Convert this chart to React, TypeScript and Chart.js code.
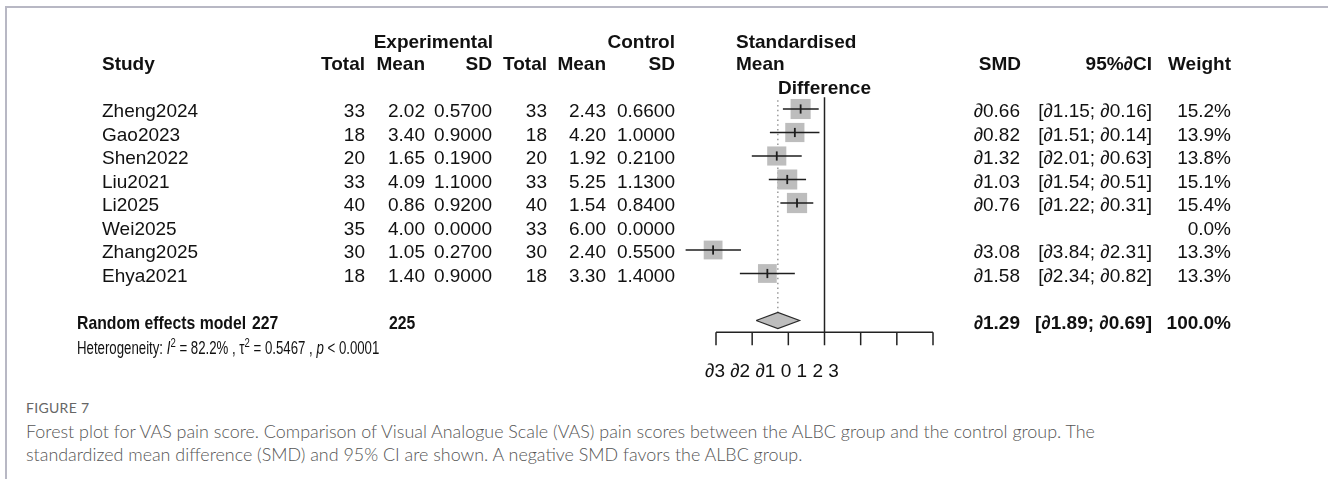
import React, { useEffect, useRef } from "react";
import { Chart, registerables } from "chart.js";

Chart.register(...registerables);

// ---------- data ----------
const studies = ["Zheng2024", "Gao2023", "Shen2022", "Liu2021", "Li2025", "Wei2025", "Zhang2025", "Ehya2021"];
const expTotal = [33, 18, 20, 33, 40, 35, 30, 18];
const expMean = [2.02, 3.4, 1.65, 4.09, 0.86, 4.0, 1.05, 1.4];
const expSD = [0.57, 0.9, 0.19, 1.1, 0.92, 0.0, 0.27, 0.9];
const ctrlTotal = [33, 18, 20, 33, 40, 33, 30, 18];
const ctrlMean = [2.43, 4.2, 1.92, 5.25, 1.54, 6.0, 2.4, 3.3];
const ctrlSD = [0.66, 1.0, 0.21, 1.13, 0.84, 0.0, 0.55, 1.4];
const smd: (number | null)[] = [-0.66, -0.82, -1.32, -1.03, -0.76, null, -3.08, -1.58];
const ciLow: (number | null)[] = [-1.15, -1.51, -2.01, -1.54, -1.22, null, -3.84, -2.34];
const ciHigh: (number | null)[] = [-0.16, -0.14, -0.63, -0.51, -0.31, null, -2.31, -0.82];
const weights = [15.2, 13.9, 13.8, 15.1, 15.4, 0.0, 13.3, 13.3];

const pooledLabel = "Random effects model";
const pooledExpTotal = 227;
const pooledCtrlTotal = 225;
const pooledSMD = -1.29;
const pooledLow = -1.89;
const pooledHigh = -0.69;
const pooledWeight = 100.0;

const hetI2 = "82.2%";
const hetTau2 = "0.5467";
const hetP = "0.0001";

const tickValues = [-3, -2, -1, 0, 1, 2, 3];
const tickLabels = ["∂3", "∂2", "∂1", "0", "1", "2", "3"];

// ---------- layout / style ----------
const W = 1328;
const H = 390;
const SANS = '"Liberation Sans", Arial, Helvetica, sans-serif';
const F_REG = `19px ${SANS}`;
const F_BOLD = `bold 19px ${SANS}`;
const INK = "#111";
const POOLED_ROW = 9;

const fmtSigned = (v: number) => (v < 0 ? "∂" + Math.abs(v).toFixed(2) : v.toFixed(2));
const fmtCI = (lo: number, hi: number) => `[${fmtSigned(lo)}; ${fmtSigned(hi)}]`;

function text(ctx: CanvasRenderingContext2D, s: string, x: number, y: number, align: CanvasTextAlign, font: string, sx = 1) {
  ctx.save();
  ctx.font = font;
  ctx.textAlign = align;
  ctx.textBaseline = "alphabetic";
  ctx.translate(x, y);
  ctx.scale(sx, 1);
  ctx.fillText(s, 0, 0);
  ctx.restore();
}

const forestPlugin = {
  id: "forestTable",
  beforeDatasetsDraw(chart: any) {
    const ctx: CanvasRenderingContext2D = chart.ctx;
    const xs = chart.scales.x;
    const ys = chart.scales.y;
    const x0 = xs.getPixelForValue(0);
    const axisY = ys.getPixelForValue(POOLED_ROW + 0.5);
    const topY = ys.getPixelForValue(-0.5);
    ctx.save();
    // zero line
    ctx.strokeStyle = "#222";
    ctx.lineWidth = 1.5;
    ctx.beginPath();
    ctx.moveTo(x0, topY);
    ctx.lineTo(x0, axisY);
    ctx.stroke();
    // pooled estimate dotted line
    const xp = xs.getPixelForValue(pooledSMD);
    ctx.strokeStyle = "#8a8a8a";
    ctx.lineWidth = 1.3;
    ctx.setLineDash([1.5, 3.3]);
    ctx.beginPath();
    ctx.moveTo(xp, topY + 3);
    ctx.lineTo(xp, ys.getPixelForValue(POOLED_ROW - 0.34));
    ctx.stroke();
    ctx.setLineDash([]);
    // axis
    ctx.strokeStyle = "#222";
    ctx.lineWidth = 1.5;
    ctx.beginPath();
    ctx.moveTo(xs.getPixelForValue(tickValues[0]), axisY);
    ctx.lineTo(xs.getPixelForValue(tickValues[tickValues.length - 1]), axisY);
    tickValues.forEach((t) => {
      const px = xs.getPixelForValue(t);
      ctx.moveTo(px, axisY);
      ctx.lineTo(px, axisY + 13);
    });
    ctx.stroke();
    ctx.restore();
  },
  afterDraw(chart: any) {
    const ctx: CanvasRenderingContext2D = chart.ctx;
    const xs = chart.scales.x;
    const ys = chart.scales.y;
    ctx.save();
    ctx.fillStyle = INK;

    // headers
    const h1 = 48, h2 = 70, h3 = 93.5;
    text(ctx, "Experimental", 493, h1, "right", F_BOLD);
    text(ctx, "Control", 675, h1, "right", F_BOLD);
    text(ctx, "Standardised", 736, h1, "left", F_BOLD);
    text(ctx, "Study", 102, h2, "left", F_BOLD);
    text(ctx, "Total", 365, h2, "right", F_BOLD);
    text(ctx, "Mean", 425, h2, "right", F_BOLD);
    text(ctx, "SD", 492, h2, "right", F_BOLD);
    text(ctx, "Total", 547, h2, "right", F_BOLD);
    text(ctx, "Mean", 606, h2, "right", F_BOLD);
    text(ctx, "SD", 675, h2, "right", F_BOLD);
    text(ctx, "Mean", 736, h2, "left", F_BOLD);
    text(ctx, "SMD", 1021, h2, "right", F_BOLD);
    text(ctx, "95%∂CI", 1152, h2, "right", F_BOLD);
    text(ctx, "Weight", 1231, h2, "right", F_BOLD);
    text(ctx, "Difference", xs.getPixelForValue(0), h3, "center", F_BOLD);

    // study rows
    studies.forEach((s, i) => {
      const y = ys.getPixelForValue(i) + 8;
      text(ctx, s, 102, y, "left", F_REG);
      text(ctx, String(expTotal[i]), 365, y, "right", F_REG);
      text(ctx, expMean[i].toFixed(2), 425, y, "right", F_REG);
      text(ctx, expSD[i].toFixed(4), 492, y, "right", F_REG);
      text(ctx, String(ctrlTotal[i]), 547, y, "right", F_REG);
      text(ctx, ctrlMean[i].toFixed(2), 606, y, "right", F_REG);
      text(ctx, ctrlSD[i].toFixed(4), 675, y, "right", F_REG);
      const e = smd[i], lo = ciLow[i], hi = ciHigh[i];
      if (e !== null && lo !== null && hi !== null) {
        text(ctx, fmtSigned(e), 1020, y, "right", F_REG);
        text(ctx, fmtCI(lo, hi), 1152, y, "right", F_REG);
      }
      text(ctx, weights[i].toFixed(1) + "%", 1231, y, "right", F_REG);
    });

    // pooled row
    const py = ys.getPixelForValue(POOLED_ROW) + 8;
    const NARROW = 0.83;
    text(ctx, pooledLabel, 77, py, "left", F_BOLD, NARROW);
    text(ctx, String(pooledExpTotal), 252, py, "left", F_BOLD, NARROW);
    text(ctx, String(pooledCtrlTotal), 389, py, "left", F_BOLD, NARROW);
    text(ctx, fmtSigned(pooledSMD), 1020, py, "right", F_BOLD);
    text(ctx, fmtCI(pooledLow, pooledHigh), 1152, py, "right", F_BOLD);
    text(ctx, pooledWeight.toFixed(1) + "%", 1231, py, "right", F_BOLD);

    // heterogeneity line (narrow)
    const hy = 354;
    const fs = 18;
    const fReg = `${fs}px ${SANS}`;
    const fIt = `italic ${fs}px ${SANS}`;
    const fSup = `13px ${SANS}`;
    const parts: [string, string, number][] = [
      ["Heterogeneity: ", fReg, 0],
      ["I", fIt, 0],
      ["2", fSup, -7],
      [` = ${hetI2} , `, fReg, 0],
      ["τ", fReg, 0],
      ["2", fSup, -7],
      [` = ${hetTau2} , `, fReg, 0],
      ["p", fIt, 0],
      [` < ${hetP}`, fReg, 0],
    ];
    ctx.save();
    ctx.translate(77, hy);
    ctx.scale(0.735, 1);
    ctx.textAlign = "left";
    ctx.textBaseline = "alphabetic";
    let cx = 0;
    parts.forEach(([s, f, dy]) => {
      ctx.font = f;
      ctx.fillText(s, cx, dy);
      cx += ctx.measureText(s).width;
    });
    ctx.restore();

    // tick labels
    text(ctx, tickLabels.join(" "), xs.getPixelForValue(tickValues[0]) - 11, 377, "left", F_REG);

    ctx.restore();
  },
};

export default function App() {
  const ref = useRef<HTMLCanvasElement | null>(null);

  useEffect(() => {
    if (!ref.current) return;
    const idx = studies.map((_, i) => i).filter((i) => smd[i] !== null);
    const squareData = idx.map((i) => ({ x: smd[i] as number, y: i }));
    const squareRadius = idx.map((i) => (5.15 * Math.sqrt(weights[i])) / Math.SQRT2);

    const ciSets = idx.map((i) => ({
      type: "scatter" as const,
      data: [
        { x: ciLow[i] as number, y: i },
        { x: ciHigh[i] as number, y: i },
      ],
      showLine: true,
      borderColor: "#1e1e1e",
      borderWidth: 1.5,
      pointRadius: 0,
      clip: false as any,
      order: 2,
    }));

    const dh = 0.34;
    const chart = new Chart(ref.current, {
      type: "scatter",
      data: {
        datasets: [
          {
            data: squareData,
            pointStyle: "rect",
            pointRadius: squareRadius,
            backgroundColor: "#bdbdbd",
            borderWidth: 0,
            clip: false as any,
            order: 3,
          } as any,
          ...ciSets,
          {
            data: squareData,
            pointStyle: "line",
            rotation: 90,
            pointRadius: 4.6,
            borderColor: "#1e1e1e",
            borderWidth: 1.8,
            clip: false as any,
            order: 1,
          } as any,
          {
            data: [
              { x: pooledLow, y: POOLED_ROW },
              { x: pooledSMD, y: POOLED_ROW - dh },
              { x: pooledHigh, y: POOLED_ROW },
              { x: pooledSMD, y: POOLED_ROW + dh },
              { x: pooledLow, y: POOLED_ROW },
            ],
            showLine: true,
            fill: "shape",
            backgroundColor: "#bdbdbd",
            borderColor: "#2a2a2a",
            borderWidth: 1.2,
            pointRadius: 0,
            tension: 0,
            clip: false as any,
            order: 0,
          } as any,
        ],
      },
      options: {
        animation: false,
        responsive: false,
        events: [],
        layout: { padding: { left: 716, right: W - 933, top: 85.5, bottom: H - 344 } },
        scales: {
          x: { type: "linear", min: -3, max: 3, display: false },
          y: { type: "linear", min: -1, max: 10, reverse: true, display: false },
        },
        plugins: { legend: { display: false }, tooltip: { enabled: false } },
      },
      plugins: [forestPlugin],
    });
    return () => chart.destroy();
  }, []);

  const capFont = 'Lato, "Open Sans", "Noto Sans", sans-serif';
  return (
    <div style={{ position: "fixed", left: 0, top: 0, width: W, height: 479, background: "#fff", overflow: "hidden" }}>
      <div
        style={{
          position: "absolute",
          left: 5,
          top: 6,
          right: -10,
          bottom: -10,
          borderLeft: "2px solid #b8b8c4",
          borderTop: "2px solid #b8b8c4",
        }}
      />
      <canvas ref={ref} width={W} height={H} style={{ position: "absolute", left: 0, top: 0, width: W, height: H }} />
      <div
        style={{
          position: "absolute",
          left: 26,
          top: 398,
          fontFamily: capFont,
          fontSize: 14,
          lineHeight: "20px",
          color: "#666",
          letterSpacing: 0.3,
        }}
      >
        FIGURE 7
      </div>
      <div
        style={{
          position: "absolute",
          left: 26,
          top: 420,
          fontFamily: capFont,
          fontWeight: 300,
          fontSize: 17.9,
          lineHeight: "22.5px",
          color: "#555",
          whiteSpace: "nowrap",
        }}
      >
        Forest plot for VAS pain score. Comparison of Visual Analogue Scale (VAS) pain scores between the ALBC group and the control group. The
        <br />
        standardized mean difference (SMD) and 95% CI are shown. A negative SMD favors the ALBC group.
      </div>
    </div>
  );
}
